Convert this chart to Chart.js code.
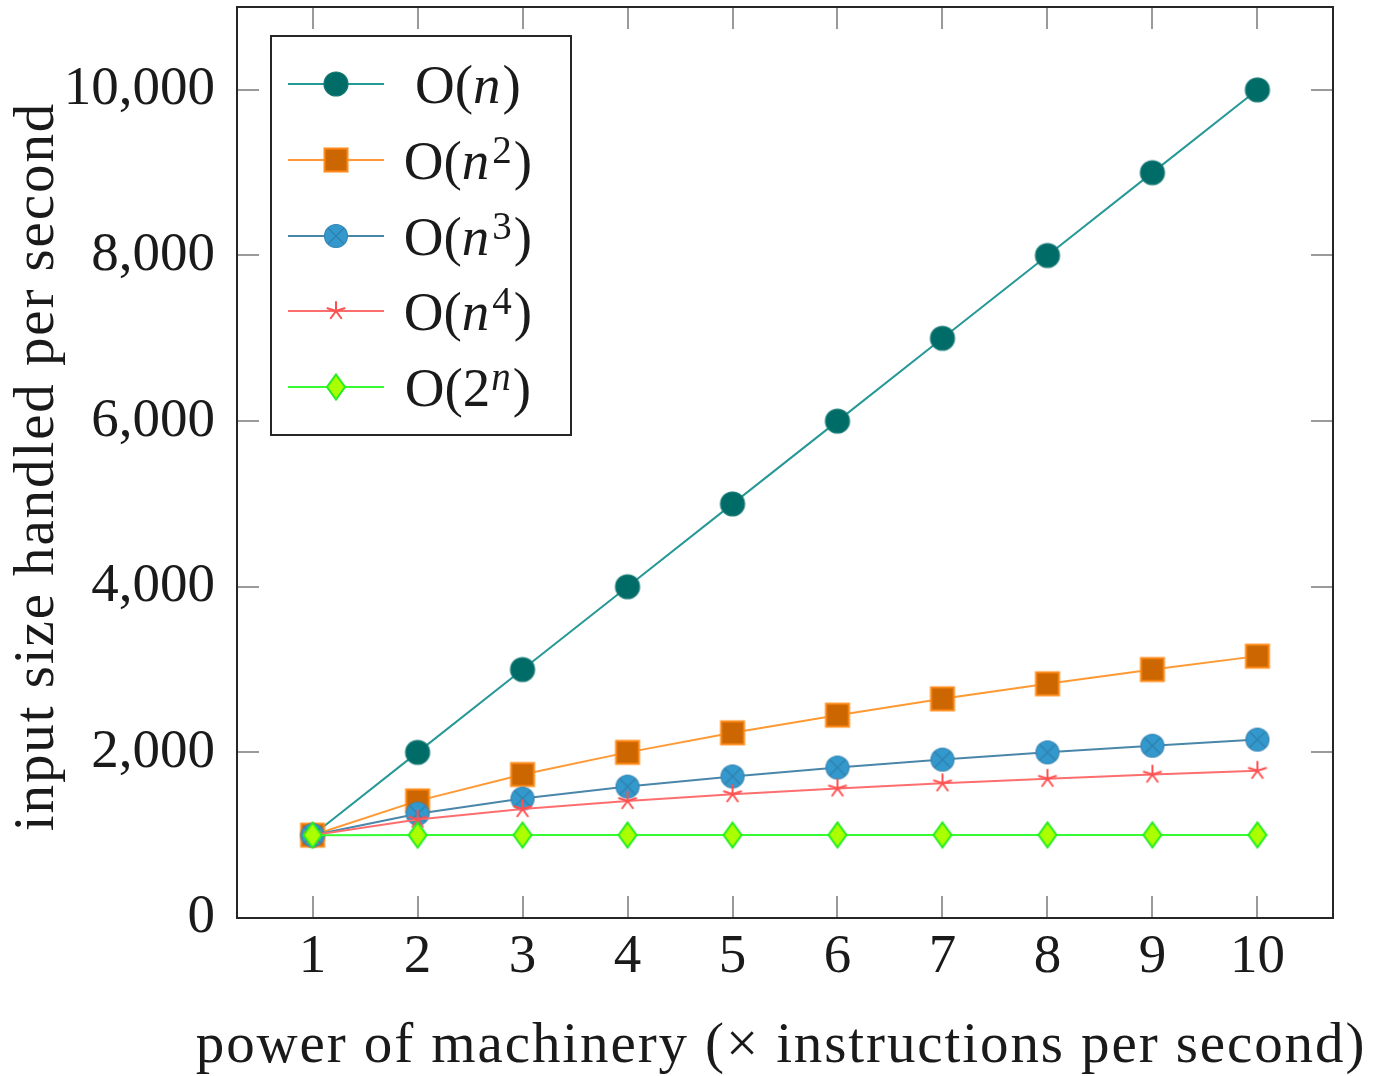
<!DOCTYPE html>
<html>
<head>
<meta charset="utf-8">
<script src="https://cdn.jsdelivr.net/npm/chart.js@4.4.1/dist/chart.umd.min.js"></script>
<style>
  html, body { margin: 0; padding: 0; background: #fff; }
  canvas { display: block; }
</style>
</head>
<body>
<canvas id="chart" width="1373" height="1076"></canvas>
<script>
// данные
const powers = [1, 2, 3, 4, 5, 6, 7, 8, 9, 10];
const linear = [1000, 2000, 3000, 4000, 5000, 6000, 7000, 8000, 9000, 10000];
const quadratic = [1000, 1414, 1732, 2000, 2236, 2449, 2646, 2828, 3000, 3162];
const cubic = [1000, 1260, 1442, 1587, 1710, 1817, 1913, 2000, 2080, 2154];
const quartic = [1000, 1189, 1316, 1414, 1495, 1565, 1627, 1682, 1732, 1778];
const exponential = [1000, 1001, 1002, 1002, 1002, 1003, 1003, 1003, 1003, 1003];
const xTicks = [1, 2, 3, 4, 5, 6, 7, 8, 9, 10];
const yTicks = [0, 2000, 4000, 6000, 8000, 10000];
const xTitle = "power of machinery (× instructions per second)";
const yTitle = "input size handled per second";

const FONT = '"Liberation Serif", "Times New Roman", serif';
const INK = "#1a1a1a";

// ---------- маркеры ----------
function markerCanvas(w, h, draw) {
  const c = document.createElement("canvas");
  c.width = w;
  c.height = h;
  const g = c.getContext("2d");
  draw(g, w / 2, h / 2);
  return c;
}

const mkCircle = markerCanvas(28, 28, (g, cx, cy) => {
  g.beginPath();
  g.arc(cx, cy, 12, 0, Math.PI * 2);
  g.fillStyle = "rgb(0,108,104)";
  g.fill();
  g.lineWidth = 1.2;
  g.strokeStyle = "rgb(20,120,116)";
  g.stroke();
});

const mkSquare = markerCanvas(28, 28, (g, cx, cy) => {
  g.fillStyle = "#cc6600";
  g.fillRect(cx - 11.5, cy - 11.5, 23, 23);
  g.lineWidth = 2;
  g.strokeStyle = "#ff8c1a";
  g.strokeRect(cx - 11.5, cy - 11.5, 23, 23);
});

const mkOtimes = markerCanvas(28, 28, (g, cx, cy) => {
  g.beginPath();
  g.arc(cx, cy, 11.5, 0, Math.PI * 2);
  g.fillStyle = "#3399cc";
  g.fill();
  g.lineWidth = 1.2;
  g.strokeStyle = "#3a86b4";
  g.stroke();
  const d = 11 * Math.SQRT1_2;
  g.beginPath();
  g.moveTo(cx - d, cy - d);
  g.lineTo(cx + d, cy + d);
  g.moveTo(cx + d, cy - d);
  g.lineTo(cx - d, cy + d);
  g.lineWidth = 1.2;
  g.strokeStyle = "#2f7fae";
  g.stroke();
});

const mkStar = markerCanvas(24, 24, (g, cx, cy) => {
  g.beginPath();
  for (let i = 0; i < 5; i++) {
    const a = -Math.PI / 2 + (i * 2 * Math.PI) / 5;
    g.moveTo(cx, cy);
    g.lineTo(cx + 9 * Math.cos(a), cy + 9 * Math.sin(a));
  }
  g.lineWidth = 2;
  g.lineCap = "round";
  g.strokeStyle = "rgb(255,80,80)";
  g.stroke();
});

const mkDiamond = markerCanvas(24, 32, (g, cx, cy) => {
  g.beginPath();
  g.moveTo(cx, cy - 12.5);
  g.lineTo(cx + 9, cy);
  g.lineTo(cx, cy + 12.5);
  g.lineTo(cx - 9, cy);
  g.closePath();
  g.fillStyle = "#aaff00";
  g.fill();
  g.lineWidth = 2;
  g.strokeStyle = "#22ee22";
  g.stroke();
});

const series = [
  { sup: null, base: "n", italicBase: true, values: linear, color: "rgb(38,152,150)", marker: mkCircle },
  { sup: "2", base: "n", italicBase: true, values: quadratic, color: "#ff9933", marker: mkSquare },
  { sup: "3", base: "n", italicBase: true, values: cubic, color: "rgb(74,134,170)", marker: mkOtimes },
  { sup: "4", base: "n", italicBase: true, values: quartic, color: "rgb(255,110,110)", marker: mkStar },
  { sup: "n", base: "2", italicBase: false, values: exponential, color: "#33ff33", marker: mkDiamond },
];

// ---------- плагины ----------
const frameTicks = {
  id: "frameTicks",
  beforeDatasetsDraw(chart) {
    const { ctx, chartArea: a, scales } = chart;
    const len = 22;
    ctx.save();
    ctx.strokeStyle = "#9a9a9a";
    ctx.lineWidth = 2;
    ctx.beginPath();
    xTicks.forEach((v) => {
      const px = Math.round(scales.x.getPixelForValue(v));
      ctx.moveTo(px, a.bottom);
      ctx.lineTo(px, a.bottom - len);
      ctx.moveTo(px, a.top);
      ctx.lineTo(px, a.top + len);
    });
    yTicks.forEach((v) => {
      const py = Math.round(scales.y.getPixelForValue(v));
      ctx.moveTo(a.left, py);
      ctx.lineTo(a.left + len, py);
      ctx.moveTo(a.right, py);
      ctx.lineTo(a.right - len, py);
    });
    ctx.stroke();
    ctx.restore();
  },
  afterDatasetsDraw(chart) {
    const { ctx, chartArea: a } = chart;
    ctx.save();
    ctx.strokeStyle = "#262626";
    ctx.lineWidth = 2;
    ctx.strokeRect(a.left, a.top, a.right - a.left, a.bottom - a.top);
    ctx.restore();
  },
};

// подписи осей рисуем сами: встроенный заголовок сжимается до ширины оси
const axisTitles = {
  id: "axisTitles",
  afterDraw(chart) {
    const { ctx, chartArea: a } = chart;
    ctx.save();
    ctx.fillStyle = INK;
    ctx.font = "57px " + FONT;
    if ("letterSpacing" in ctx) ctx.letterSpacing = "1.9px";
    ctx.textAlign = "center";
    ctx.textBaseline = "alphabetic";
    ctx.fillText(xTitle, (a.left + a.right) / 2 - 4, 1062);
    ctx.translate(53, (a.top + a.bottom) / 2 + 4);
    ctx.rotate(-Math.PI / 2);
    ctx.fillText(yTitle, 0, 0);
    ctx.restore();
  },
};

const boxLegend = {
  id: "boxLegend",
  afterDraw(chart) {
    const ctx = chart.ctx;
    const box = { x: 271, y: 36, w: 300, h: 399 };
    ctx.save();
    ctx.fillStyle = "#fff";
    ctx.fillRect(box.x, box.y, box.w, box.h);
    ctx.strokeStyle = "#262626";
    ctx.lineWidth = 2;
    ctx.strokeRect(box.x, box.y, box.w, box.h);

    const rowY0 = 84, rowStep = 75.8;
    const roman = "55px " + FONT;
    const ital = "italic 55px " + FONT;
    const supR = "39px " + FONT;
    const supI = "italic 39px " + FONT;
    series.forEach((s, i) => {
      const y = Math.round(rowY0 + i * rowStep);
      ctx.strokeStyle = s.color;
      ctx.lineWidth = 2;
      ctx.beginPath();
      ctx.moveTo(288, y);
      ctx.lineTo(384, y);
      ctx.stroke();
      ctx.drawImage(s.marker, 336 - s.marker.width / 2, y - s.marker.height / 2);

      // подпись O(n^k) с курсивом и степенью
      const parts = [
        { t: "O(", f: roman, dy: 0 },
        { t: s.base, f: s.italicBase ? ital : roman, dy: 0 },
      ];
      if (s.sup) parts.push({ t: s.sup, f: s.sup === "n" ? supI : supR, dy: -16, pre: s.italicBase ? 3 : 1 });
      parts.push({ t: ")", f: roman, dy: 0, pre: 2 });
      let total = 0;
      parts.forEach((p) => {
        ctx.font = p.f;
        p.w = ctx.measureText(p.t).width + (p.pre || 0);
        total += p.w;
      });
      let x = 468 - total / 2;
      ctx.fillStyle = INK;
      ctx.textBaseline = "alphabetic";
      ctx.textAlign = "left";
      parts.forEach((p) => {
        ctx.font = p.f;
        ctx.fillText(p.t, x + (p.pre || 0), y + 19 + p.dy);
        x += p.w;
      });
    });
    ctx.restore();
  },
};

// ---------- график ----------
const datasets = series.map((s, i) => ({
  label: "O",
  data: powers.map((p, k) => ({ x: p, y: s.values[k] })),
  borderColor: s.color,
  backgroundColor: s.color,
  borderWidth: 2,
  pointStyle: s.marker,
  pointRadius: 12,
  tension: 0,
  order: series.length - i,
}));

new Chart(document.getElementById("chart"), {
  type: "line",
  data: { datasets },
  options: {
    responsive: false,
    animation: false,
    devicePixelRatio: 1,
    layout: { autoPadding: false, padding: { top: 7, right: 40, left: 0, bottom: 0 } },
    plugins: { legend: { display: false }, tooltip: { enabled: false } },
    scales: {
      x: {
        type: "linear",
        min: 0.28,
        max: 10.72,
        grid: { display: false, drawTicks: false },
        border: { display: false },
        afterBuildTicks: (sc) => { sc.ticks = xTicks.map((v) => ({ value: v })); },
        afterFit: (sc) => {
          sc.height = 158;
          sc.paddingLeft = 0;
          sc.paddingRight = 0;
        },
        ticks: {
          color: INK,
          font: { family: FONT, size: 55 },
          padding: 7,
          maxRotation: 0,
          autoSkip: false,
        },
      },
      y: {
        min: 0,
        max: 11000,
        grid: { display: false, drawTicks: false },
        border: { display: false },
        afterBuildTicks: (sc) => { sc.ticks = yTicks.map((v) => ({ value: v })); },
        afterFit: (sc) => {
          sc.width = 237;
          sc.paddingTop = 0;
          sc.paddingBottom = 0;
        },
        ticks: {
          color: INK,
          font: { family: FONT, size: 55 },
          padding: 22,
          callback: (v) => v.toLocaleString("en-US"),
        },
      },
    },
  },
  plugins: [frameTicks, axisTitles, boxLegend],
});
</script>
</body>
</html>
